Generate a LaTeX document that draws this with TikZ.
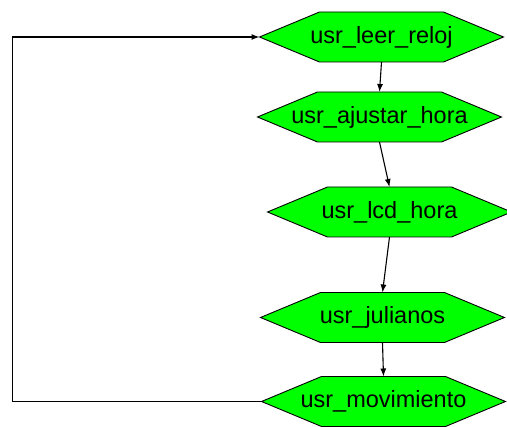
\documentclass[tikz,border=0pt]{standalone}
\usepackage{fontspec}
\setmainfont{Liberation Sans}
\usetikzlibrary{arrows.meta}
\newcommand\hexshape[1]{\filldraw[hexdraw] (#1) ++(-122,0) -- ++(60,-25) -- ++(124,0) -- ++(60,25) -- ++(-60,25) -- ++(-124,0) -- cycle;}
\begin{document}
\begin{tikzpicture}[x=1pt,y=-1pt,
  hexdraw/.style={draw=black, line width=0.9pt, fill={rgb,255:red,0;green,255;blue,0}},
  hexnode/.style={shape=rectangle, draw=none,
    minimum width=244pt, minimum height=50pt, inner sep=0pt, outer sep=0pt,
    font=\fontsize{23.5}{26}\selectfont, text=black},
  conn/.style={draw=black, line width=1.1pt, -{Latex[length=8pt,width=6pt]}}]
\useasboundingbox (0,0) rectangle (507,427);
\hexshape{381.5,37}
\node[hexnode] (n1) at (381.5,37) {usr\_leer\_reloj};
\hexshape{379.5,117}
\node[hexnode] (n2) at (379.5,117) {usr\_ajustar\_hora};
\hexshape{389.5,212}
\node[hexnode] (n3) at (389.5,212) {usr\_lcd\_hora};
\hexshape{382.5,317.5}
\node[hexnode] (n4) at (382.5,317.5) {usr\_julianos};
\hexshape{383.5,401.5}
\node[hexnode] (n5) at (383.5,401.5) {usr\_movimiento};
\coordinate (loopx) at (12.5,401.5);
\draw[conn] (n1.south) -- (n2.north);
\draw[conn] (n2.south) -- (n3.north);
\draw[conn] (n3.south) -- (n4.north);
\draw[conn] (n4.south) -- (n5.north);
\draw[conn] (n5.west) -- (loopx) |- (n1.west);
\end{tikzpicture}
\end{document}
